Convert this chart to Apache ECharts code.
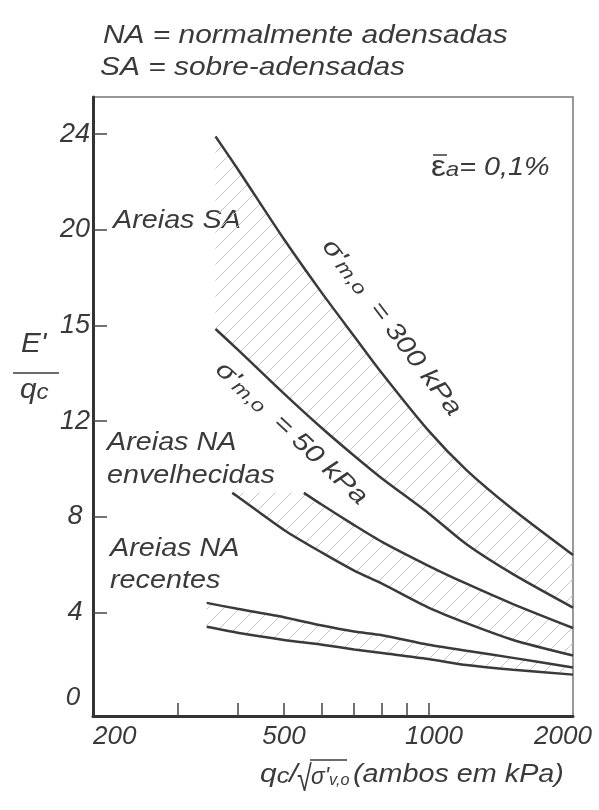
<!DOCTYPE html>
<html>
<head>
<meta charset="utf-8">
<script src="https://cdn.jsdelivr.net/npm/echarts@6/dist/echarts.min.js"></script>
<style>
  html, body { margin: 0; padding: 0; background: #fff; }
  #chart { width: 599px; height: 810px; }
</style>
</head>
<body>
<div id="chart"></div>
<script>
// Axis ticks and labels
const xTickValues = [300, 400, 500, 600, 700, 800, 900, 1000];
const xLabelValues = [200, 500, 1000, 2000];
const yTickValues = [4, 8, 12, 16, 20, 24];
const yLabelValues = [0, 4, 8, 12, 16, 20, 24];
const yLabelTexts = ['0', '4', '8', '12', '15', '20', '24'];

// Over-consolidated sands: sigma'm,o = 300 kPa and 50 kPa
const xSA = [360, 400, 500, 600, 700, 800, 1000, 1200, 1500, 2000];
const sa300 = [23.9, 22.55, 19.6, 17.35, 15.55, 14.0, 11.6, 9.95, 8.3, 6.4];
const sa50 = [15.85, 15.0, 13.15, 11.7, 10.55, 9.6, 8.15, 6.85, 5.6, 4.2];

// Aged normally consolidated sands
const xAgedUpper = [550, 600, 700, 800, 1000, 1200, 1500, 2000];
const agedUpper = [9.0, 8.5, 7.65, 6.95, 5.95, 5.2, 4.35, 3.35];
const xAgedLower = [390, 400, 500, 600, 700, 800, 1000, 1200, 1500, 2000];
const agedLower = [9.0, 8.85, 7.45, 6.5, 5.75, 5.2, 4.2, 3.55, 2.85, 2.2];

// Recent normally consolidated sands
const xRecent = [345, 400, 500, 600, 700, 800, 1000, 1200, 1500, 2000];
const recentUpper = [4.4, 4.15, 3.8, 3.45, 3.2, 3.05, 2.65, 2.4, 2.1, 1.7];
const recentLower = [3.4, 3.15, 2.85, 2.65, 2.45, 2.3, 2.05, 1.8, 1.6, 1.4];

const INK = '#3a3a3a';
const FONT = '"Liberation Sans", Arial, sans-serif';

// Diagonal hatch tile
function makeHatch() {
  const s = 16;
  const c = document.createElement('canvas');
  c.width = s; c.height = s;
  const g = c.getContext('2d');
  g.strokeStyle = '#c6c6c6';
  g.lineWidth = 1;
  g.beginPath();
  g.moveTo(-2, s + 2); g.lineTo(s + 2, -2);
  g.moveTo(-2, 2); g.lineTo(2, -2);
  g.moveTo(s - 2, s + 2); g.lineTo(s + 2, s - 2);
  g.stroke();
  return c;
}
const hatch = { image: makeHatch(), repeat: 'repeat' };

const pairs = (xs, ys) => xs.map((x, i) => [x, ys[i]]);

function band(xLow, yLow, xUp, yUp) {
  return {
    type: 'custom',
    coordinateSystem: 'cartesian2d',
    silent: true,
    z: 1,
    data: [[xLow[0], yLow[0]]],
    renderItem: function (params, api) {
      const pts = [];
      for (let i = 0; i < xLow.length; i++) pts.push(api.coord([xLow[i], yLow[i]]));
      for (let i = xUp.length - 1; i >= 0; i--) pts.push(api.coord([xUp[i], yUp[i]]));
      return { type: 'polygon', shape: { points: pts }, style: { fill: hatch, stroke: null } };
    }
  };
}

function curve(xs, ys) {
  return {
    type: 'line',
    data: pairs(xs, ys),
    smooth: 0.25,
    showSymbol: false,
    silent: true,
    z: 3,
    lineStyle: { color: INK, width: 2.5 }
  };
}

function txt(x, y, text, size, extra) {
  return Object.assign({
    type: 'text', x: x, y: y, scaleX: 1.15, silent: true,
    style: {
      text: text, fontFamily: FONT, fontStyle: 'italic', fontSize: size, fill: INK,
      align: 'left', verticalAlign: 'middle'
    }
  }, extra || {});
}

function richTxt(x, y, text, size, subSize, extra, moreRich) {
  const base = { fontFamily: FONT, fontStyle: 'italic', fill: INK };
  const rich = {
    m: Object.assign({ fontSize: size, lineHeight: size }, base),
    s: Object.assign({ fontSize: subSize, lineHeight: subSize * 0.55, verticalAlign: 'bottom' }, base)
  };
  Object.assign(rich, moreRich || {});
  return Object.assign({
    type: 'text', x: x, y: y, scaleX: 1.15, silent: true,
    style: {
      text: text, fontFamily: FONT, fontStyle: 'italic', fontSize: size, fill: INK,
      align: 'left', verticalAlign: 'middle', rich: rich
    }
  }, extra || {});
}

const deg = Math.PI / 180;

const chart = echarts.init(document.getElementById('chart'), null, { renderer: 'canvas' });
chart.setOption({
  animation: false,
  backgroundColor: '#fff',
  grid: {
    left: 93, right: 26, top: 97, bottom: 94,
    show: true, borderColor: '#777', borderWidth: 1.5, backgroundColor: 'transparent'
  },
  xAxis: {
    type: 'log', logBase: 10, min: 200, max: 2000,
    axisLine: { show: true, onZero: false, lineStyle: { color: '#333', width: 3 } },
    axisTick: { show: true, inside: true, length: 13, customValues: xTickValues, lineStyle: { color: '#444', width: 1.5 } },
    minorTick: { show: false },
    splitLine: { show: false },
    axisLabel: {
      customValues: xLabelValues, margin: 8, color: INK,
      fontFamily: FONT, fontStyle: 'italic', fontSize: 26,
      alignMinLabel: 'left',
      formatter: function (v) {
        if (v === 2000) return '{r|2000}';
        if (v === 1000) return '{k|1000}';
        return String(v);
      },
      rich: {
        r: { fontFamily: FONT, fontStyle: 'italic', fontSize: 26, color: INK, padding: [0, 20, 0, 0] },
        k: { fontFamily: FONT, fontStyle: 'italic', fontSize: 26, color: INK, padding: [0, 0, 0, 11] }
      }
    }
  },
  yAxis: {
    type: 'value', min: -0.33, max: 25.55,
    axisLine: { show: true, onZero: false, lineStyle: { color: '#333', width: 3 } },
    axisTick: { show: true, inside: true, length: 14, customValues: yTickValues, lineStyle: { color: '#444', width: 1.5 } },
    splitLine: { show: false },
    axisLabel: {
      customValues: yLabelValues, margin: 18, align: 'center', color: INK,
      fontFamily: FONT, fontStyle: 'italic', fontSize: 27,
      formatter: function (v) {
        const t = yLabelTexts[yLabelValues.indexOf(Math.round(v))];
        return v === 0 ? '{z|' + t + '}' : t;
      },
      rich: {
        z: { fontFamily: FONT, fontStyle: 'italic', fontSize: 26, color: INK, padding: [0, 4, 20, 0] }
      }
    }
  },
  series: [
    band(xSA, sa50, xSA, sa300),
    band(xAgedLower, agedLower, xAgedUpper, agedUpper),
    band(xRecent, recentLower, xRecent, recentUpper),
    curve(xSA, sa300),
    curve(xSA, sa50),
    curve(xAgedUpper, agedUpper),
    curve(xAgedLower, agedLower),
    curve(xRecent, recentUpper),
    curve(xRecent, recentLower)
  ],
  graphic: [
    // header
    txt(103, 36, 'NA = normalmente adensadas', 26),
    txt(100, 68, 'SA = sobre-adensadas', 26),
    // zone names
    txt(113, 221, 'Areias SA', 25),
    txt(107, 443, 'Areias NA', 25),
    txt(107, 476, 'envelhecidas', 25),
    txt(110, 549, 'Areias NA', 25),
    txt(110, 581, 'recentes', 25),
    // strain level
    richTxt(431, 168, '{e|\u03b5}{s|a}{m|= 0,1%}', 25, 21, null, {
      e: { fontFamily: FONT, fontStyle: 'normal', fill: INK, fontSize: 29, lineHeight: 25 }
    }),
    { type: 'line', silent: true, shape: { x1: 433, y1: 155, x2: 447, y2: 155 }, style: { stroke: INK, lineWidth: 1.5 } },
    // curve labels
    richTxt(327, 242, "{m|\u03c3'}{s|m,o}{m|  = 300 kPa}", 25, 19, { rotation: -53 * deg, scaleX: 1.2 }),
    richTxt(219, 366, "{m|\u03c3'}{s|m,o}{m|  = 50 kPa}", 25, 19, { rotation: -43 * deg, scaleX: 1.2 }),
    // y-axis title
    txt(21, 344, "E'", 27, { scaleX: 1.1 }),
    { type: 'line', silent: true, shape: { x1: 13, y1: 373, x2: 59, y2: 373 }, style: { stroke: INK, lineWidth: 1.5 } },
    richTxt(20, 390, '{m|q}{s|c}', 27, 22, { scaleX: 1.1 }),
    // x-axis title
    richTxt(260, 775, '{m|q}{s|c}{m|/}', 26, 22),
    {
      type: 'text', x: 297, y: 781, scaleX: 0.75, silent: true,
      style: { text: '\u221a', fontFamily: FONT, fontSize: 36, fill: INK, align: 'left', verticalAlign: 'middle' }
    },
    { type: 'line', silent: true, shape: { x1: 310, y1: 760, x2: 347, y2: 760 }, style: { stroke: INK, lineWidth: 1.5 } },
    richTxt(311, 777, "{m|\u03c3'}{s|v,o}", 24, 17, { scaleX: 0.95 }),
    txt(353, 775, '(ambos em kPa)', 25)
  ]
});
</script>
</body>
</html>
